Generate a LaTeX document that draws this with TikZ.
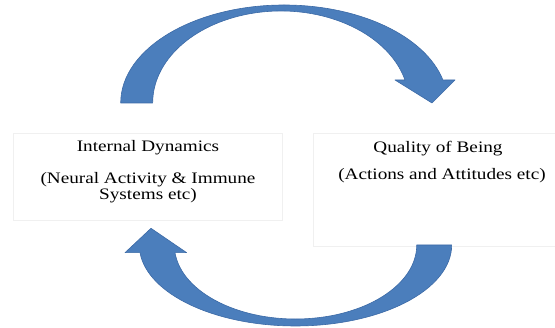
\documentclass[tikz,border=0pt]{standalone}
\usepackage{fontspec}
\setmainfont{Liberation Serif}[FakeStretch=1.2]
\usepackage{tikz}
\usetikzlibrary{positioning}
\definecolor{arrowblue}{HTML}{4B7EBC}
\definecolor{arrowedge}{HTML}{3C6AA6}

\begin{document}
\begin{tikzpicture}[x=1pt, y=1pt,
box/.style={draw=black!6, rectangle, line width=0.6pt},
label/.style={font=\fontsize{16}{16.5}\selectfont, align=center, anchor=base, inner sep=0pt},
bigarrow/.style={fill=arrowblue, draw=arrowedge, line width=0.6pt, line join=round}]

\useasboundingbox (0,0) rectangle (555,328);

\node[box, minimum width=269, minimum height=87]	(L) at (147.5,151.5)	{};
\node[box, minimum width=256, minimum height=113]	(R) at (441,138.5)	{};

\node[label]	(Ltitle) at (148,176)	{Internal Dynamics};
\node[label]	(Lsub) at (148,128)	{(Neural Activity \& Immune\\Systems etc)};
\node[label]	(Rtitle) at (438,175.3)	{Quality of Being};
\node[label]	(Rsub) at (442,148)	{(Actions and Attitudes etc)};

% top arrow, from left box over to right box
\draw[bigarrow] (120.7,225) arc[start angle=180, end angle=13.57, x radius=163.4pt, y radius=98pt]
 -- (455,248) -- (432,225) -- (395,248) -- (405,248)
 arc[start angle=14.48, end angle=180, x radius=128.2pt, y radius=92pt] -- cycle;

% bottom arrow, back from right box to left box
\draw[bigarrow] (451.7,83) arc[start angle=0, end angle=-174.55, x radius=156.2pt, y radius=81pt]
 -- (125,75.3) -- (151,99.7) -- (186.7,75.3) -- (175,75.3)
 arc[start angle=-174.03, end angle=0, x radius=121.2pt, y radius=74pt] -- cycle;

\end{tikzpicture}
\end{document}
